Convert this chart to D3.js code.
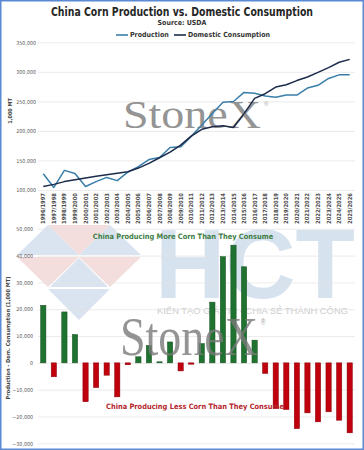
<!DOCTYPE html>
<html>
<head>
<meta charset="utf-8">
<script src="https://cdn.jsdelivr.net/npm/d3@7"></script>
<style>
  body { margin: 0; background: #fff; }
  svg { display: block; }
</style>
</head>
<body>
<script>
// marketing years, USDA PSD (1,000 MT)
var seasons = ["1996/1997","1997/1998","1998/1999","1999/2000","2000/2001","2001/2002","2002/2003",
  "2003/2004","2004/2005","2005/2006","2006/2007","2007/2008","2008/2009","2009/2010","2010/2011",
  "2011/2012","2012/2013","2013/2014","2014/2015","2015/2016","2016/2017","2017/2018","2018/2019",
  "2019/2020","2020/2021","2021/2022","2022/2023","2023/2024","2024/2025","2025/2026"];

var production = [127470,104309,133198,128086,106000,114088,121300,115830,130290,139365,
  151600,155000,172000,173000,190750,210000,229550,248450,249760,265140,
  263610,259071,257174,260779,260670,272552,277203,288842,294917,295000];

var consumption = [106000,109500,114200,117500,120500,123300,125900,128500,131000,137100,
  145100,154600,164200,176000,191250,202800,206900,208850,205860,229300,
  255140,263000,274200,278200,285200,291200,299200,307100,316300,321100];

var topTicks = [100000,150000,200000,250000,300000,350000];
var bottomTicks = [-30000,-20000,-10000,0,10000,20000,30000,40000,50000];

var W = 364, H = 450;
var svg = d3.select("body").append("svg").attr("width", W).attr("height", H);
var font = "Liberation Sans Narrow, DejaVu Sans Condensed, Arial Narrow, sans-serif";

var x = d3.scaleBand().domain(seasons).range([38, 355]).paddingInner(0.5).paddingOuter(0.25);
var cx = function(d) { return x(d) + x.bandwidth() / 2; };

var yTop = d3.scaleLinear().domain([100000, 350000]).range([190, 42.3]);
var yBot = d3.scaleLinear().domain([-30000, 50000]).range([443.3, 228.8]);

// ---- HCT watermark (behind everything)
var wm = svg.append("g").attr("opacity", 0.9);
var tri = [
  [[17,255],[48,225],[79,255],"#d7e2ef"],
  [[48,225],[110,225],[79,255],"#f3dada"],
  [[79,255],[110,225],[141,255],"#d7e2ef"],
  [[17,257],[79,257],[48,287],"#f3dada"],
  [[79,257],[141,257],[110,287],"#f3dada"],
  [[50,287],[79,258],[108,287],"#d7e2ef"],
  [[48,289],[110,289],[79,320],"#d7e2ef"]
];
wm.selectAll("path").data(tri).enter().append("path")
  .attr("d", function(t) { return "M" + t[0] + "L" + t[1] + "L" + t[2] + "Z"; })
  .attr("fill", function(t) { return t[3]; });
wm.append("text").attr("x", 155).attr("y", 298)
  .attr("font-family", "Liberation Sans, Arial, sans-serif").attr("font-weight", "bold")
  .attr("font-size", 98).attr("fill", "#d3dfee")
  .attr("textLength", 200).attr("lengthAdjust", "spacingAndGlyphs")
  .text("HCT");
wm.append("text").attr("x", 157).attr("y", 314)
  .attr("font-family", "Liberation Sans, Arial, sans-serif")
  .attr("font-size", 8.5).attr("fill", "#c9c9c9")
  .attr("textLength", 191).attr("lengthAdjust", "spacingAndGlyphs")
  .text("KIẾN TẠO GIÁ TRỊ - CHIA SẺ THÀNH CÔNG");

// ---- frame
svg.append("rect").attr("x", 0.75).attr("y", 0.75).attr("width", W - 1.5).attr("height", H - 1.5)
  .attr("fill", "none").attr("stroke", "#5b8ad5").attr("stroke-width", 1.5);

// ---- titles
svg.append("text").attr("x", 182).attr("y", 15.5).attr("text-anchor", "middle")
  .attr("font-family", font).attr("font-weight", "bold").attr("font-size", 12.5).attr("fill", "#262626")
  .attr("textLength", 262).attr("lengthAdjust", "spacingAndGlyphs")
  .text("China Corn Production vs. Domestic Consumption");
svg.append("text").attr("x", 182).attr("y", 25).attr("text-anchor", "middle")
  .attr("font-family", font).attr("font-weight", "bold").attr("font-size", 7).attr("fill", "#333")
  .text("Source: USDA");

// ---- top chart gridlines + axis
function styleAxis(g) {
  g.select(".domain").remove();
  g.selectAll("text").attr("font-family", font).attr("fill", "#595959");
}
svg.append("g").attr("transform", "translate(38,0)")
  .call(d3.axisLeft(yTop).tickValues(topTicks).tickSize(-317).tickFormat(""))
  .call(function(g) { g.select(".domain").remove(); g.selectAll("line").attr("stroke", "#e3e3e3").attr("stroke-width", 0.7); });
svg.append("g").attr("transform", "translate(38,0)")
  .call(d3.axisLeft(yTop).tickValues(topTicks).tickSize(0).tickPadding(2).tickFormat(d3.format(",")))
  .call(styleAxis)
  .selectAll("text").attr("font-size", 5.3);

svg.append("g").attr("transform", "translate(0,190)")
  .call(d3.axisBottom(x).tickSize(0))
  .call(styleAxis)
  .selectAll("text")
  .attr("transform", "rotate(-90)").attr("x", -3).attr("y", 0).attr("dy", "0.35em")
  .style("text-anchor", "end").attr("font-size", 5.8).attr("font-weight", "bold").attr("fill", "#4a4a4a");

svg.append("text").attr("transform", "translate(12,111) rotate(-90)").attr("text-anchor", "middle")
  .attr("font-family", font).attr("font-size", 5.5).attr("font-weight", "bold").attr("fill", "#444")
  .text("1,000 MT");

// StoneX logo
function stonex(gx, gy, sy) {
  var g = svg.append("g").attr("transform", "translate(" + gx + "," + gy + ") scale(1," + sy + ")").attr("opacity", 0.8);
  g.append("text").attr("x", 0).attr("y", 0)
    .attr("font-family", "Liberation Serif, DejaVu Serif, serif").attr("font-size", 40).attr("fill", "#7a7a7a")
    .attr("textLength", 138).attr("lengthAdjust", "spacingAndGlyphs").text("StoneX");
  g.append("text").attr("x", 141).attr("y", -22)
    .attr("font-family", "Liberation Sans, sans-serif").attr("font-size", 6).attr("fill", "#8c8c8c").text("®");
}
stonex(123, 128, 1);

// lines
var series = [
  { name: "Production", values: production, color: "#3a7fa9" },
  { name: "Domestic Consumption", values: consumption, color: "#1c2b4b" }
];
var line = d3.line()
  .x(function(d, i) { return cx(seasons[i]); })
  .y(function(d) { return yTop(d); });
svg.selectAll(".series").data(series).enter().append("path")
  .attr("class", "series")
  .attr("d", function(s) { return line(s.values); })
  .attr("fill", "none").attr("stroke", function(s) { return s.color; })
  .attr("stroke-width", 1.5).attr("stroke-linejoin", "round");

// legend
var legX = [116, 174];
var leg = svg.selectAll(".leg").data(series).enter().append("g")
  .attr("class", "leg")
  .attr("transform", function(s, i) { return "translate(" + legX[i] + ",35)"; });
leg.append("line").attr("x1", 0).attr("x2", 12).attr("stroke", function(s) { return s.color; }).attr("stroke-width", 1.6);
leg.append("text").attr("x", 14).attr("y", 2.3)
  .attr("font-family", font).attr("font-weight", "bold").attr("font-size", 7).attr("fill", "#333")
  .text(function(s) { return s.name; });

// ---- bottom chart
var surplus = production.map(function(p, i) { return p - consumption[i]; });

svg.append("g").attr("transform", "translate(38,0)")
  .call(d3.axisLeft(yBot).tickValues(bottomTicks).tickSize(-317).tickFormat(""))
  .call(function(g) { g.select(".domain").remove(); g.selectAll("line").attr("stroke", "#e3e3e3").attr("stroke-width", 0.7); });
svg.append("g").attr("transform", "translate(36,0)")
  .call(d3.axisLeft(yBot).tickValues(bottomTicks).tickSize(0).tickPadding(3).tickFormat(d3.format(",")))
  .call(styleAxis)
  .selectAll("text").attr("font-size", 5.3);

svg.append("text").attr("transform", "translate(10,338) rotate(-90)").attr("text-anchor", "middle")
  .attr("font-family", font).attr("font-size", 5.6).attr("font-weight", "bold").attr("fill", "#444")
  .text("Production - Dom. Consumption (1,000 MT)");

svg.selectAll(".bar").data(surplus).enter().append("rect")
  .attr("class", "bar")
  .attr("x", function(d, i) { return x(seasons[i]); })
  .attr("width", x.bandwidth())
  .attr("y", function(d) { return yBot(Math.max(0, d)); })
  .attr("height", function(d) { return Math.abs(yBot(d) - yBot(0)); })
  .attr("fill", function(d) { return d >= 0 ? "#1f7230" : "#c0000c"; })
  .attr("stroke", function(d) { return d >= 0 ? "#15501f" : "#8a0008"; })
  .attr("stroke-width", 0.5);

svg.append("text").attr("x", 183).attr("y", 238.5).attr("text-anchor", "middle")
  .attr("font-family", font).attr("font-weight", "bold").attr("font-size", 7.4).attr("fill", "#3f7d46")
  .text("China Producing More Corn Than They Consume");
svg.append("text").attr("x", 195).attr("y", 409).attr("text-anchor", "middle")
  .attr("font-family", font).attr("font-weight", "bold").attr("font-size", 7.4).attr("fill", "#b4262c")
  .text("China Producing Less Corn Than They Consume");

stonex(120, 355, 1.38);
</script>
</body>
</html>
